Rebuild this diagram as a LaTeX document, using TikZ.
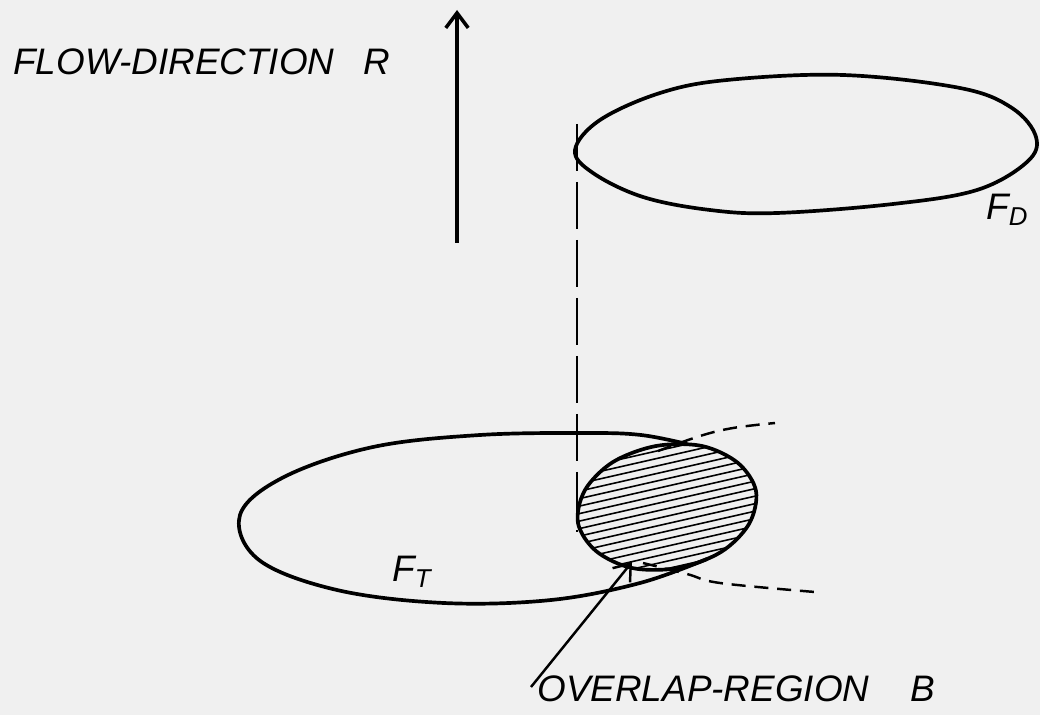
\documentclass[tikz,border=0pt]{standalone}
\usepackage{fontspec}
\setsansfont{Liberation Sans}
\usetikzlibrary{arrows.meta, calc}

\begin{document}
\begin{tikzpicture}[
    x=0.02cm, y=-0.02cm,
    outline/.style={line width=2.1pt, line join=round},
    projection/.style={line width=1.4pt, dash pattern=on 8pt off 5pt},
    axisline/.style={line width=1pt, dash pattern=on 27pt off 6pt},
    hatchline/.style={line width=0.9pt},
    flow/.style={-{Straight Barb[length=3mm, width=4.5mm]}, line width=2pt},
    hand/.style={font=\sffamily\itshape\fontsize{21}{25}\selectfont, inner sep=0pt, anchor=west},
]

\useasboundingbox[fill=black!6] (0,0) rectangle (1040,715);

% --------- flow direction ----------
\coordinate (flowtail) at (457,243);
\coordinate (flowhead) at (457,10);
\draw[flow] (flowtail) -- (flowhead);
\node[hand] (flowlbl) at (13,62) {FLOW-DIRECTION\hspace{0.8em}R};

% --------- downstream surface F_D ----------
\draw[outline] plot[smooth cycle, tension=0.6] coordinates {
    (575,150) (600,120) (660,93) (727,80) (843,75) (960,88) (1012,108)
    (1036,137) (1027,162) (977,190) (893,204) (777,213) (710,210)
    (643,197) (593,173)};
\node[hand] (fdlbl) at (986,210) {F\textsubscript{D}};

% projection of the left edge
\coordinate (axistop) at (577,124);
\coordinate (axisbot) at (577,532);
\draw[axisline] (axistop) -- (axisbot);

% --------- upstream surface F_T ----------
\draw[outline] plot[smooth, tension=0.6] coordinates {
    (687,444) (641,435) (587,433) (480,435) (373,447) (284,477) (240,515)
    (259,560) (337,590) (444,603) (551,600) (640,583) (707,559)};
\node[hand] (ftlbl) at (392,572) {F\textsubscript{T}};

% --------- overlap region B ----------
\begin{scope}
  \clip plot[smooth cycle, tension=0.55] coordinates {
      (756,491) (749,524) (721,552) (678,568) (632,568) (596,551)
      (578,523) (585,490) (613,462) (656,446) (702,446) (738,463)};
  \foreach \k in {0,...,26}
    \draw[hatchline] (560,428+7.5*\k) -- (780,378+7.5*\k);
\end{scope}
\draw[outline] plot[smooth cycle, tension=0.55] coordinates {
    (756,491) (749,524) (721,552) (678,568) (632,568) (596,551)
    (578,523) (585,490) (613,462) (656,446) (702,446) (738,463)};

% continuation of F_D beyond the overlap
\draw[projection] plot[smooth, tension=0.6] coordinates {(658,451) (700,436) (733,428) (775,423)};
\draw[projection] plot[smooth, tension=0.6] coordinates {(643,563) (687,574) (720,583) (815,592)};

\node[hand] (overlaplbl) at (537,689) {OVERLAP-REGION\hspace{1.1em}B};
\coordinate (overlaptip) at (632,562);
\draw[flow, line width=1.4pt] ($(overlaplbl.west)+(-6,-2)$) -- (overlaptip);

\end{tikzpicture}
\end{document}
